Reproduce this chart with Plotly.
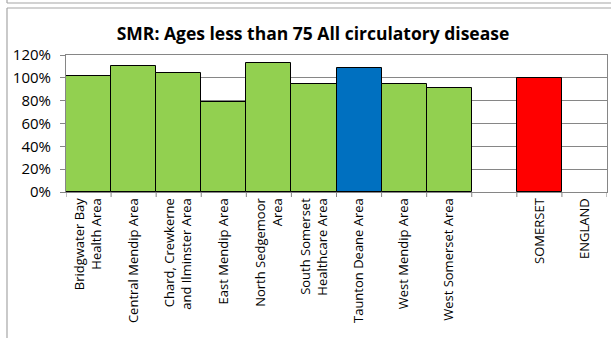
import plotly.graph_objects as go

categories = ["Bridgwater Bay<br>Health Area", "Central Mendip Area", "Chard, Crewkerne<br>and Ilminster Area",
              "East Mendip Area", "North Sedgemoor<br>Area", "South Somerset<br>Healthcare Area",
              "Taunton Deane Area", "West Mendip Area", "West Somerset Area", " ", "SOMERSET", "ENGLAND"]
values = [1.02, 1.10, 1.04, 0.79, 1.13, 0.95, 1.09, 0.95, 0.91, None, 1.00, None]
colors = ["#92D050"] * 6 + ["#0070C0"] + ["#92D050"] * 2 + ["#FFFFFF", "#FF0000", "#FFFFFF"]
yticks = [0, 0.2, 0.4, 0.6, 0.8, 1.0, 1.2]
ytext = ["0%", "20%", "40%", "60%", "80%", "100%", "120%"]

W, H = 611, 338
L, R, T, B = 66, 4, 55, 146
pw, ph = W - L - R, H - T - B

def px(x):
    return (x - L) / pw

def py(y):
    return (H - B - y) / ph

fig = go.Figure(go.Bar(
    x=list(range(len(categories))), y=values,
    marker=dict(color=colors, line=dict(color="#000000", width=1)),
    width=1.0,
))

frame = "#A6A6A6"
shapes = [
    dict(type="line", xref="paper", yref="paper", x0=px(7), x1=px(611), y0=py(3), y1=py(3), line=dict(color=frame, width=1.2)),
    dict(type="line", xref="paper", yref="paper", x0=px(7), x1=px(7), y0=py(0), y1=py(3), line=dict(color=frame, width=1.2)),
    dict(type="line", xref="paper", yref="paper", x0=px(7), x1=px(611), y0=py(8), y1=py(8), line=dict(color=frame, width=1.2)),
    dict(type="line", xref="paper", yref="paper", x0=px(7), x1=px(7), y0=py(8), y1=py(338), line=dict(color=frame, width=1.2)),
]

fig.update_layout(
    template="none",
    width=W, height=H,
    margin=dict(l=L, r=R, t=T, b=B, pad=0),
    paper_bgcolor="white", plot_bgcolor="white",
    font=dict(family="Open Sans", size=13, color="#000000"),
    title=dict(text="<b>SMR: Ages less than 75 All circulatory disease</b>", x=313 / W, xanchor="center",
               y=1 - 34 / H, yanchor="middle", font=dict(size=17.5, family="Open Sans", color="#000000")),
    bargap=0,
    showlegend=False,
    shapes=shapes,
    xaxis=dict(
        automargin=False,
        range=[-0.5, len(categories) - 0.5],
        tickmode="array", tickvals=list(range(len(categories))), ticktext=categories,
        tickangle=-90, showline=True, linecolor="#868686", linewidth=1, mirror=True,
        ticks="", showgrid=False, zeroline=False, tickfont=dict(size=13, color="#000000"),
    ),
    yaxis=dict(
        automargin=False,
        range=[0, 1.2], tickvals=yticks, ticktext=ytext,
        showline=True, linecolor="#868686", linewidth=1, mirror=True,
        ticks="outside", ticklen=5, tickcolor="#868686", ticklabelstandoff=6,
        showgrid=True, gridcolor="#868686", gridwidth=1, zeroline=False,
        tickfont=dict(size=15, color="#000000"),
    ),
)

# category boundary tick marks below the x axis
for i in range(len(categories) + 1):
    fig.add_shape(type="line", xref="x", yref="paper", x0=i - 0.5, x1=i - 0.5, y0=0, y1=-5 / ph,
                  line=dict(color="#868686", width=1))

fig.write_html("out.html", config={"displayModeBar": False},
               post_script="document.body.style.margin='0';document.body.style.overflow='hidden';")
